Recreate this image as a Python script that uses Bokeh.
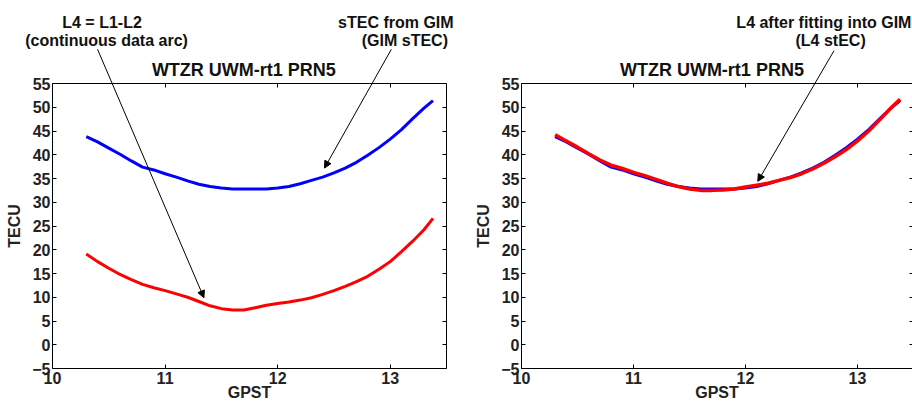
from bokeh.plotting import figure
from bokeh.layouts import row
from bokeh.models import LinearAxis, FixedTicker, Label, Arrow, NormalHead, Range1d
from bokeh.embed import file_html
from bokeh.resources import INLINE

# ---------------- data ----------------
title_text = "WTZR UWM-rt1 PRN5"
x_ticks = [10, 11, 12, 13]
y_ticks = [-5, 0, 5, 10, 15, 20, 25, 30, 35, 40, 45, 50, 55]

gpst = [10.30, 10.40, 10.50, 10.60, 10.70, 10.80, 10.90, 11.00, 11.10, 11.20,
        11.30, 11.40, 11.50, 11.60, 11.70, 11.80, 11.90, 12.00, 12.10, 12.20,
        12.30, 12.40, 12.50, 12.60, 12.70, 12.80, 12.90, 13.00, 13.10, 13.20,
        13.30, 13.38]

gim_stec = [43.8, 42.7, 41.4, 40.1, 38.7, 37.4, 36.8, 36.0, 35.3, 34.5,
            33.8, 33.3, 33.0, 32.8, 32.8, 32.8, 32.8, 33.0, 33.3, 33.9,
            34.6, 35.3, 36.2, 37.2, 38.4, 39.9, 41.5, 43.3, 45.3, 47.6,
            49.8, 51.4]

l4_arc = [19.1, 17.5, 16.1, 14.8, 13.7, 12.7, 12.0, 11.4, 10.7, 10.0,
          9.1, 8.2, 7.6, 7.3, 7.3, 7.8, 8.3, 8.7, 9.0, 9.4,
          9.9, 10.6, 11.4, 12.3, 13.3, 14.4, 15.9, 17.5, 19.6, 21.8,
          24.2, 26.6]

l4_stec = [44.2, 42.9, 41.6, 40.2, 38.9, 37.8, 37.1, 36.3, 35.6, 34.8,
           34.0, 33.3, 32.8, 32.5, 32.5, 32.6, 32.8, 33.2, 33.6, 34.0,
           34.6, 35.2, 36.0, 37.0, 38.2, 39.6, 41.1, 42.9, 45.0, 47.4,
           49.9, 51.7]

X_MIN, X_MAX = 10, 13.5
Y_MIN, Y_MAX = -5, 55

# ---------------- layout constants (pixels) ----------------
FONT = "Liberation Sans"
H = 401
BOX_TOP, BOX_BOTTOM = 83, 368


def make_panel(width, box_left, box_right):
    ppx = (box_right - box_left) / (X_MAX - X_MIN)
    ppy = (BOX_BOTTOM - BOX_TOP) / (Y_MAX - Y_MIN)
    xr = Range1d(X_MIN - box_left / ppx, X_MAX + (width - box_right) / ppx)
    yr = Range1d(Y_MIN - (H - BOX_BOTTOM) / ppy, Y_MAX + BOX_TOP / ppy)
    p = figure(width=width, height=H, output_backend="svg", toolbar_location=None,
               x_range=xr, y_range=yr, title_location=None,
               x_axis_location=None, y_axis_location=None, min_border=0)
    p.background_fill_color = "white"
    p.border_fill_color = "white"
    p.outline_line_color = None
    p.grid.visible = False

    def style(ax, labelled):
        ax.major_tick_in = 4
        ax.major_tick_out = 0
        ax.minor_tick_line_color = None
        ax.axis_line_color = "black"
        ax.major_tick_line_color = "black"
        ax.major_label_text_font = FONT
        ax.major_label_text_font_size = "16px"
        ax.major_label_text_font_style = "bold"
        ax.major_label_text_color = "#222222" if labelled else None
        ax.axis_label_text_font = FONT
        ax.axis_label_text_font_size = "16px"
        ax.axis_label_text_font_style = "bold"
        ax.axis_label_text_color = "#222222"

    bottom = LinearAxis(fixed_location=Y_MIN, bounds=(X_MIN, X_MAX),
                        ticker=FixedTicker(ticks=x_ticks), axis_label="GPST",
                        major_label_standoff=3, axis_label_standoff=-3)
    left = LinearAxis(fixed_location=X_MIN, bounds=(Y_MIN, Y_MAX),
                      ticker=FixedTicker(ticks=y_ticks), axis_label="TECU",
                      major_label_standoff=2, axis_label_standoff=6)
    top = LinearAxis(fixed_location=Y_MAX, bounds=(X_MIN, X_MAX),
                     ticker=FixedTicker(ticks=x_ticks))
    right = LinearAxis(fixed_location=X_MAX, bounds=(Y_MIN, Y_MAX),
                       ticker=FixedTicker(ticks=y_ticks))
    style(bottom, True)
    style(left, True)
    style(top, False)
    style(right, False)
    p.add_layout(bottom, "below")
    p.add_layout(left, "left")
    p.add_layout(top, "above")
    p.add_layout(right, "right")
    return p


def note(p, x, y, text, size="16px"):
    p.add_layout(Label(x=x, y=y, text=text, text_align="center", text_baseline="middle",
                       text_font=FONT, text_font_size=size, text_font_style="bold",
                       text_color="#111111"))


def pointer(p, xs, ys, xe, ye):
    p.add_layout(Arrow(end=NormalHead(size=7, fill_color="black", line_color="black", line_width=1),
                       x_start=xs, y_start=ys, x_end=xe, y_end=ye,
                       line_color="black", line_width=1))


# ---------------- left panel ----------------
p1 = make_panel(470, 52, 446)
p1.line(gpst, gim_stec, line_color="#0000FF", line_width=3)
p1.line(gpst, l4_arc, line_color="#FF0000", line_width=3)
note(p1, 11.70, 57.9, title_text, "18px")
note(p1, 10.44, 67.8, "L4 = L1-L2")
note(p1, 10.48, 64.0, "(continuous data arc)")
note(p1, 13.05, 67.8, "sTEC from GIM")
note(p1, 13.13, 64.0, "(GIM sTEC)")
pointer(p1, 10.40, 62.2, 11.345, 9.9)
pointer(p1, 13.01, 62.2, 12.416, 37.2)

# ---------------- right panel ----------------
p2 = make_panel(442, 51, 443)
p2.line(gpst, gim_stec, line_color="#0000FF", line_width=3)
p2.line(gpst, l4_stec, line_color="#FF0000", line_width=3.5)
note(p2, 11.70, 57.9, title_text, "18px")
note(p2, 12.70, 67.8, "L4 after fitting into GIM")
note(p2, 12.76, 64.0, "(L4 stEC)")
pointer(p2, 12.79, 61.9, 12.11, 34.4)

layout = row(p1, p2)
open("out.html", "w").write(file_html(layout, INLINE))
